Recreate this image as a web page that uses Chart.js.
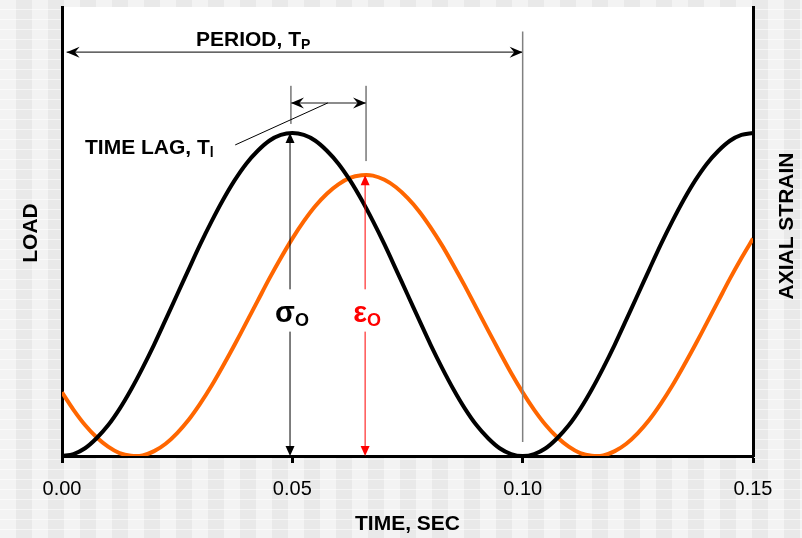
<!DOCTYPE html>
<html>
<head>
<meta charset="utf-8">
<script src="https://cdn.jsdelivr.net/npm/chart.js@4.4.1/dist/chart.umd.min.js"></script>
<style>
  html, body {
    margin: 0;
    padding: 0;
  }
  body {
    width: 802px;
    height: 538px;
    background-color: #eeeeee;
    background-image:
      repeating-linear-gradient(0deg, rgba(255,255,255,0.55) 0px, rgba(255,255,255,0.55) 1px, transparent 1px, transparent 10px),
      linear-gradient(90deg, #f3f3f3 50%, #e9e9e9 50%);
    background-size: 100% 10px, 32px 100%;
  }
  canvas { display: block; }
</style>
</head>
<body>
<canvas id="myChart" width="802" height="538"></canvas>
<script>
// temps (s)
const times = [0, 0.0025, 0.005, 0.0075, 0.010, 0.0125, 0.015, 0.0175, 0.020, 0.0225,
    0.025, 0.0275, 0.030, 0.0325, 0.035, 0.0375, 0.040, 0.0425, 0.045, 0.0475,
    0.050, 0.0525, 0.055, 0.0575, 0.060, 0.0625, 0.065, 0.0675, 0.070, 0.0725,
    0.075, 0.0775, 0.080, 0.0825, 0.085, 0.0875, 0.090, 0.0925, 0.095, 0.0975,
    0.100, 0.1025, 0.105, 0.1075, 0.110, 0.1125, 0.115, 0.1175, 0.120, 0.1225,
    0.125, 0.1275, 0.130, 0.1325, 0.135, 0.1375, 0.140, 0.1425, 0.145, 0.1475,
    0.150];

// charge (noir)
const load = [0, 0.006, 0.024, 0.055, 0.095, 0.146, 0.206, 0.273, 0.345, 0.422,
    0.500, 0.578, 0.655, 0.727, 0.794, 0.854, 0.905, 0.945, 0.976, 0.994,
    1.000, 0.994, 0.976, 0.945, 0.905, 0.854, 0.794, 0.727, 0.655, 0.578,
    0.500, 0.422, 0.345, 0.273, 0.206, 0.146, 0.095, 0.055, 0.024, 0.006,
    0, 0.006, 0.024, 0.055, 0.095, 0.146, 0.206, 0.273, 0.345, 0.422,
    0.500, 0.578, 0.655, 0.727, 0.794, 0.854, 0.905, 0.945, 0.976, 0.994,
    1.000];

// deformation axiale (orange)
const strain = [0.197, 0.143, 0.096, 0.058, 0.029, 0.009, 0.001, 0.002, 0.015, 0.038,
    0.071, 0.112, 0.162, 0.218, 0.280, 0.345, 0.413, 0.481, 0.549, 0.613,
    0.673, 0.727, 0.774, 0.812, 0.841, 0.861, 0.869, 0.868, 0.855, 0.832,
    0.799, 0.758, 0.708, 0.652, 0.590, 0.525, 0.457, 0.389, 0.322, 0.257,
    0.197, 0.143, 0.096, 0.058, 0.029, 0.009, 0.001, 0.002, 0.015, 0.038,
    0.071, 0.112, 0.162, 0.218, 0.280, 0.345, 0.413, 0.481, 0.549, 0.613,
    0.673];

const tickValues = [0, 0.05, 0.10, 0.15];

const FONT = '"Liberation Sans", Arial, sans-serif';

function line(ctx, x1, y1, x2, y2, color, w) {
    ctx.beginPath();
    ctx.moveTo(x1, y1);
    ctx.lineTo(x2, y2);
    ctx.strokeStyle = color;
    ctx.lineWidth = w;
    ctx.stroke();
}

// pointe de fleche, dir = angle vers lequel pointe la fleche
function head(ctx, x, y, dir, len, half, color, notch) {
    const c = Math.cos(dir), s = Math.sin(dir);
    const bx = x - c * len, by = y - s * len;
    ctx.beginPath();
    ctx.moveTo(x, y);
    ctx.lineTo(bx - s * half, by + c * half);
    ctx.lineTo(x - c * len * (1 - notch), y - s * len * (1 - notch));
    ctx.lineTo(bx + s * half, by - c * half);
    ctx.closePath();
    ctx.fillStyle = color;
    ctx.fill();
}

function subText(ctx, main, sub, x, y, mainFont, subFont, color, align, subDrop) {
    ctx.font = mainFont;
    const w1 = ctx.measureText(main).width;
    ctx.font = subFont;
    const w2 = ctx.measureText(sub).width;
    let x0 = x;
    if (align === 'center') x0 = x - (w1 + w2) / 2;
    ctx.fillStyle = color;
    ctx.textAlign = 'left';
    ctx.textBaseline = 'alphabetic';
    ctx.font = mainFont;
    ctx.fillText(main, x0, y);
    ctx.font = subFont;
    ctx.fillText(sub, x0 + w1, y + subDrop);
}

const overlay = {
    id: 'overlay',
    beforeDraw(chart) {
        const a = chart.chartArea;
        const ctx = chart.ctx;
        ctx.save();
        ctx.fillStyle = '#ffffff';
        ctx.fillRect(a.left, a.top, a.right - a.left, a.bottom - a.top);
        ctx.restore();
    },
    afterDatasetsDraw(chart) {
        const ctx = chart.ctx;
        const xs = chart.scales.x, ys = chart.scales.y;
        const px = t => xs.getPixelForValue(t);
        const py = v => ys.getPixelForValue(v);
        ctx.save();

        // periode
        line(ctx, px(0.001), py(1.25), px(0.10), py(1.25), '#333333', 1.3);
        head(ctx, px(0.001), py(1.25), Math.PI, 13, 5.5, '#000', 0.35);
        head(ctx, px(0.10), py(1.25), 0, 13, 5.5, '#000', 0.35);
        line(ctx, px(0.10), py(1.314), px(0.10), py(0.043), '#808080', 1.5);
        subText(ctx, 'PERIOD, T', 'P', px(0.0415), py(1.269),
            'bold 21px ' + FONT, 'bold 14px ' + FONT, '#000', 'center', 3);

        // dephasage
        line(ctx, px(0.0497), py(1.146), px(0.0497), py(1.028), '#333333', 1);
        line(ctx, px(0.0660), py(1.146), px(0.0660), py(0.913), '#333333', 1);
        line(ctx, px(0.0497), py(1.093), px(0.0660), py(1.093), '#666666', 1.5);
        head(ctx, px(0.0497), py(1.093), Math.PI, 13, 5.5, '#000', 0.35);
        head(ctx, px(0.0660), py(1.093), 0, 13, 5.5, '#000', 0.35);
        line(ctx, px(0.0376), py(0.963), px(0.0577), py(1.093), '#000', 1);
        subText(ctx, 'TIME LAG, T', 'l', px(0.005), py(0.935),
            'bold 21px ' + FONT, 'bold 14px ' + FONT, '#000', 'left', 3);

        // sigma_o
        const xsig = px(0.0495);
        line(ctx, xsig, py(1.0) + 6, xsig, py(0.516), '#000', 1);
        line(ctx, xsig, py(0.385), xsig, py(0) - 6, '#000', 1);
        head(ctx, xsig, py(1.0), -Math.PI / 2, 10, 4.5, '#000', 0);
        head(ctx, xsig, py(0), Math.PI / 2, 10, 4.5, '#000', 0);
        subText(ctx, 'σ', 'O', xsig + 2, py(0.415),
            'bold 29px ' + FONT, 'bold 18px ' + FONT, '#000', 'center', 4);

        // epsilon_o
        const xeps = px(0.0658);
        line(ctx, xeps, py(0.869) + 6, xeps, py(0.516), '#ff0000', 1);
        line(ctx, xeps, py(0.385), xeps, py(0) - 6, '#ff0000', 1);
        head(ctx, xeps, py(0.869), -Math.PI / 2, 10, 4.5, '#ff0000', 0);
        head(ctx, xeps, py(0), Math.PI / 2, 10, 4.5, '#ff0000', 0);
        subText(ctx, 'ε', 'O', xeps + 2, py(0.415),
            'bold 29px ' + FONT, 'bold 18px ' + FONT, '#ff0000', 'center', 4);

        // titres des axes
        const a = chart.chartArea;
        ctx.fillStyle = '#000';
        ctx.font = 'bold 21px ' + FONT;
        ctx.textAlign = 'center';
        ctx.textBaseline = 'middle';
        ctx.save();
        ctx.translate(31, 233);
        ctx.rotate(-Math.PI / 2);
        ctx.fillText('LOAD', 0, 0);
        ctx.restore();
        ctx.save();
        ctx.translate(a.right + 34, 226);
        ctx.rotate(-Math.PI / 2);
        ctx.fillText('AXIAL STRAIN', 0, 0);
        ctx.restore();
        ctx.textBaseline = 'alphabetic';
        ctx.fillText('TIME, SEC', (a.left + a.right) / 2, 530);

        ctx.restore();
    }
};

const data = {
    datasets: [
        {
            label: 'Load',
            data: times.map((t, i) => ({ x: t, y: load[i] })),
            borderColor: '#000000',
            borderWidth: 4,
            pointRadius: 0,
            tension: 0.3,
            fill: false
        },
        {
            label: 'Axial strain',
            data: times.map((t, i) => ({ x: t, y: strain[i] })),
            borderColor: '#ff6600',
            borderWidth: 4,
            pointRadius: 0,
            tension: 0.3,
            fill: false
        }
    ]
};

const config = {
    type: 'line',
    data: data,
    options: {
        responsive: false,
        animation: false,
        devicePixelRatio: 1,
        layout: { padding: { top: 7 } },
        plugins: {
            legend: { display: false },
            tooltip: { enabled: false }
        },
        scales: {
            x: {
                type: 'linear',
                min: 0,
                max: 0.15,
                afterBuildTicks: (scale) => {
                    scale.ticks = tickValues.map(v => ({ value: v }));
                },
                afterFit: (scale) => { scale.height = 82; },
                ticks: {
                    callback: (v) => v.toFixed(2),
                    font: { family: FONT, size: 20 },
                    color: '#000',
                    padding: 14,
                    maxRotation: 0
                },
                grid: {
                    drawOnChartArea: false,
                    drawTicks: true,
                    tickLength: 7,
                    tickWidth: 3,
                    tickColor: '#000'
                },
                border: { display: true, width: 3, color: '#000' }
            },
            y: {
                position: 'left',
                min: 0,
                max: 1.39,
                afterFit: (scale) => { scale.width = 62; },
                ticks: { display: false },
                grid: { drawOnChartArea: false, drawTicks: false },
                border: { display: true, width: 3, color: '#000' }
            },
            y1: {
                position: 'right',
                min: 0,
                max: 1.39,
                afterFit: (scale) => { scale.width = 49; },
                ticks: { display: false },
                grid: { drawOnChartArea: false, drawTicks: false },
                border: { display: true, width: 3, color: '#000' }
            }
        }
    },
    plugins: [overlay]
};

const myChart = new Chart(document.getElementById('myChart'), config);
</script>
</body>
</html>
